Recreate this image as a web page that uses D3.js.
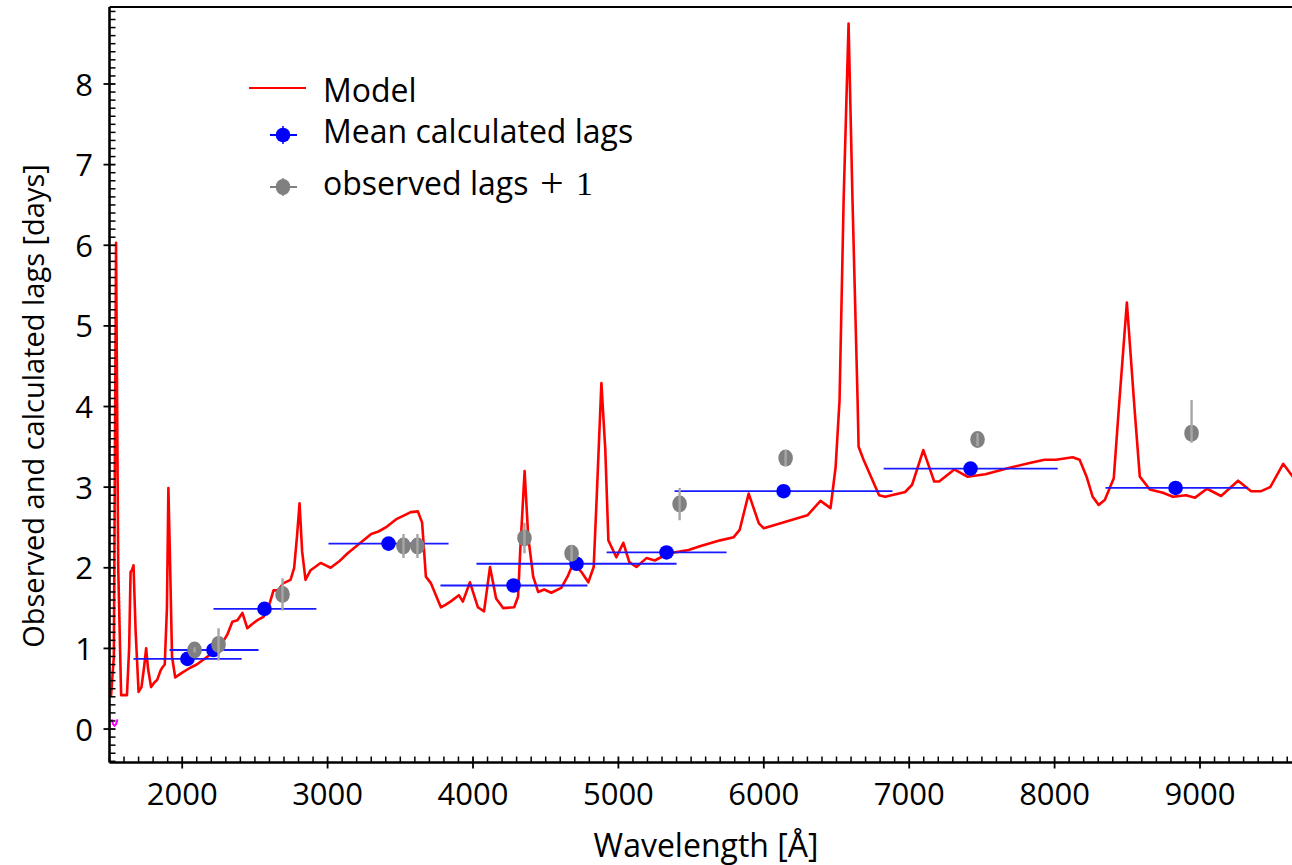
<!DOCTYPE html>
<html>
<head>
<meta charset="utf-8">
<script src="https://cdn.jsdelivr.net/npm/d3@7"></script>
<style>
  body { margin: 0; background: #fff; }
  svg text { font-family: "Open Sans", sans-serif; fill: #000; }
</style>
</head>
<body>
<svg id="chart" width="1292" height="865"></svg>
<script>

// MODEL CURVE (wavelength in A, lag in days)
var model_wave = [1510, 1530, 1545, 1560, 1580, 1620, 1635, 1645, 1655, 1665, 1680, 1700, 1720, 1740, 1752, 1765, 1786, 1810, 1828, 1850, 1862, 1880, 1895, 1905, 1915, 1930, 1952,
  2000, 2055, 2100, 2145, 2220, 2270, 2310, 2345, 2380, 2414, 2448, 2480, 2517, 2559, 2600, 2628, 2660, 2697, 2745, 2770, 2790, 2807, 2825, 2848, 2883, 2952,
  3021, 3080, 3138, 3220, 3300, 3350, 3400, 3470, 3572, 3621, 3650, 3676, 3710, 3779, 3810, 3845, 3903, 3930, 3979,
  4034, 4076, 4117, 4159, 4207, 4283, 4310, 4325, 4355, 4380, 4414, 4448, 4490, 4538, 4607, 4650, 4690, 4745, 4793, 4830, 4850, 4883, 4910, 4931, 4986,
  5034, 5075, 5124, 5193, 5250, 5345, 5420, 5483, 5566, 5700, 5793, 5834, 5896, 5966,
  6000, 6150, 6300, 6390, 6459, 6494, 6521, 6549, 6583, 6610, 6645, 6652, 6686, 6793, 6835, 6972,
  7020, 7097, 7172, 7206, 7310, 7400, 7524, 7690, 7828, 7931,
  8010, 8124, 8172, 8220, 8262, 8303, 8345, 8407, 8441, 8497, 8552, 8586, 8655, 8745, 8814, 8903, 8966,
  9048, 9145, 9262, 9352, 9420, 9483, 9572, 9655, 9700];
var model_lag = [0.40, 0.90, 6.03, 2.00, 0.42, 0.42, 1.00, 1.95, 1.97, 2.03, 1.20, 0.46, 0.52, 0.80, 1.00, 0.75, 0.52, 0.58, 0.61, 0.72, 0.76, 0.80, 1.50, 2.99, 2.20, 0.90, 0.64,
  0.70, 0.76, 0.80, 0.86, 0.96, 1.05, 1.17, 1.33, 1.35, 1.44, 1.25, 1.30, 1.35, 1.39, 1.55, 1.72, 1.72, 1.81, 1.85, 2.00, 2.40, 2.80, 2.20, 1.85, 1.97, 2.06,
  2.00, 2.08, 2.18, 2.30, 2.42, 2.45, 2.50, 2.60, 2.69, 2.70, 2.56, 1.89, 1.81, 1.51, 1.54, 1.58, 1.66, 1.58, 1.82,
  1.51, 1.46, 2.01, 1.62, 1.50, 1.51, 1.64, 2.22, 3.20, 2.38, 1.89, 1.70, 1.73, 1.69, 1.75, 1.89, 2.06, 1.95, 1.82, 2.01, 2.84, 4.29, 3.46, 2.34, 2.13,
  2.31, 2.07, 2.01, 2.12, 2.09, 2.18, 2.20, 2.22, 2.27, 2.34, 2.38, 2.47, 2.92, 2.55,
  2.49, 2.57, 2.65, 2.83, 2.74, 3.25, 4.08, 6.56, 8.75, 6.56, 4.08, 3.50, 3.34, 2.90, 2.88, 2.94,
  3.03, 3.46, 3.07, 3.07, 3.22, 3.13, 3.16, 3.24, 3.30, 3.34,
  3.34, 3.37, 3.34, 3.13, 2.88, 2.78, 2.84, 3.11, 3.96, 5.29, 3.92, 3.13, 2.97, 2.93, 2.88, 2.90, 2.87,
  2.98, 2.89, 3.08, 2.95, 2.95, 3.00, 3.29, 3.09, 3.00];

// MEAN CALCULATED LAGS (with wavelength band as horizontal bar)
var calc_wave = [2036, 2215, 2566, 3419, 4279, 4712, 5331, 6136, 7422, 8832];
var calc_lag = [0.87, 0.98, 1.49, 2.30, 1.78, 2.05, 2.19, 2.95, 3.23, 2.99];
var calc_wave_min = [1665, 1913, 2215, 3006, 3776, 4024, 4919, 5386, 6824, 8350];
var calc_wave_max = [2409, 2525, 2923, 3832, 4787, 5400, 5744, 6885, 8021, 9327];

// OBSERVED LAGS + 1 (with vertical error bars)
var obs_wave = [2085, 2250, 2690, 3522, 3618, 4354, 4678, 5421, 6150, 7470, 8942];
var obs_lag = [0.98, 1.05, 1.67, 2.27, 2.27, 2.37, 2.18, 2.79, 3.36, 3.59, 3.67];
var obs_err_lo = [0.03, 0.20, 0.20, 0.15, 0.15, 0.19, 0.10, 0.20, 0.10, 0.08, 0.12];
var obs_err_hi = [0.03, 0.20, 0.20, 0.15, 0.15, 0.19, 0.10, 0.20, 0.10, 0.08, 0.41];

// small magenta trace near the left edge
var uv_wave = [1515, 1525, 1535, 1545, 1555];
var uv_lag = [0.12, 0.06, 0.04, 0.06, 0.12];

// AXIS TICKS
var x_ticks = [2000, 3000, 4000, 5000, 6000, 7000, 8000, 9000];
var y_ticks = [0, 1, 2, 3, 4, 5, 6, 7, 8];

var legend_labels = ["Model", "Mean calculated lags", "observed lags"];

// SVG DIMENSIONS
var svg = d3.select("#chart");
var left = 109.5, right = 1292, top_y = 7, bottom_y = 762.5;

var xScale = d3.scaleLinear().domain([1500, 9700]).range([left, left + 8200 * 0.1454]);
var yScale = d3.scaleLinear().domain([-0.415, 8.955]).range([bottom_y, top_y]);

svg.append("clipPath").attr("id", "plot_clip")
  .append("rect").attr("x", left).attr("y", top_y)
  .attr("width", right - left).attr("height", bottom_y - top_y);

var plot = svg.append("g").attr("clip-path", "url(#plot_clip)");

// MODEL LINE
var model_data = model_wave.map((w, i) => [w, model_lag[i]]);
var line = d3.line().x(d => xScale(d[0])).y(d => yScale(d[1]));

plot.append("path")
  .datum(uv_wave.map((w, i) => [w, uv_lag[i]]))
  .attr("d", line)
  .attr("fill", "none").attr("stroke", "#ff00ff").attr("stroke-width", 2);

plot.append("path")
  .datum(model_data)
  .attr("d", line)
  .attr("fill", "none")
  .attr("stroke", "#ff0000")
  .attr("stroke-width", 2.6)
  .attr("stroke-linejoin", "round");

// CALCULATED LAGS
var calc_data = calc_wave.map((w, i) => ({w: w, v: calc_lag[i], lo: calc_wave_min[i], hi: calc_wave_max[i]}));

plot.selectAll("line.calc_bar")
  .data(calc_data)
  .enter().append("line")
  .attr("class", "calc_bar")
  .attr("x1", d => xScale(d.lo)).attr("x2", d => xScale(d.hi))
  .attr("y1", d => yScale(d.v)).attr("y2", d => yScale(d.v))
  .attr("stroke", "#1a1aff").attr("stroke-width", 1.8);

plot.selectAll("circle.calc_pt")
  .data(calc_data)
  .enter().append("circle")
  .attr("class", "calc_pt")
  .attr("cx", d => xScale(d.w)).attr("cy", d => yScale(d.v))
  .attr("r", 7.3)
  .attr("fill", "#0000ff");

// OBSERVED LAGS
var obs_data = obs_wave.map((w, i) => ({w: w, v: obs_lag[i], lo: obs_lag[i] - obs_err_lo[i], hi: obs_lag[i] + obs_err_hi[i]}));

plot.selectAll("ellipse.obs_pt")
  .data(obs_data)
  .enter().append("ellipse")
  .attr("class", "obs_pt")
  .attr("cx", d => xScale(d.w)).attr("cy", d => yScale(d.v))
  .attr("rx", 7.3).attr("ry", 8.5)
  .attr("fill", "#808080");

plot.selectAll("line.obs_bar")
  .data(obs_data)
  .enter().append("line")
  .attr("class", "obs_bar")
  .attr("x1", d => xScale(d.w)).attr("x2", d => xScale(d.w))
  .attr("y1", d => yScale(d.lo)).attr("y2", d => yScale(d.hi))
  .attr("stroke", "#a6a6a6").attr("stroke-width", 2.4);

// AXES
var x_minor = d3.range(1500, 9700, 100).filter(t => t % 1000 != 0);
var y_minor = d3.range(-4, 90, 1).map(t => t / 10).filter(t => Math.round(t * 10) % 10 != 0);

var axes = svg.append("g");

axes.selectAll("line.xminor").data(x_minor).enter().append("line")
  .attr("x1", d => xScale(d)).attr("x2", d => xScale(d))
  .attr("y1", bottom_y - 6).attr("y2", bottom_y)
  .attr("stroke", "#000").attr("stroke-width", 1.5);
axes.selectAll("line.xmajor").data(x_ticks).enter().append("line")
  .attr("x1", d => xScale(d)).attr("x2", d => xScale(d))
  .attr("y1", bottom_y - 6).attr("y2", bottom_y + 6)
  .attr("stroke", "#000").attr("stroke-width", 1.8);

axes.selectAll("line.yminor").data(y_minor).enter().append("line")
  .attr("y1", d => yScale(d)).attr("y2", d => yScale(d))
  .attr("x1", left).attr("x2", left + 6)
  .attr("stroke", "#000").attr("stroke-width", 1.5);
axes.selectAll("line.ymajor").data(y_ticks).enter().append("line")
  .attr("y1", d => yScale(d)).attr("y2", d => yScale(d))
  .attr("x1", left - 6).attr("x2", left + 6)
  .attr("stroke", "#000").attr("stroke-width", 1.8);

// frame lines: left, bottom, top
axes.append("line").attr("x1", left).attr("x2", left).attr("y1", top_y).attr("y2", bottom_y)
  .attr("stroke", "#000").attr("stroke-width", 2.6);
axes.append("line").attr("x1", left).attr("x2", right).attr("y1", bottom_y).attr("y2", bottom_y)
  .attr("stroke", "#000").attr("stroke-width", 2.6);
axes.append("line").attr("x1", left).attr("x2", right).attr("y1", top_y).attr("y2", top_y)
  .attr("stroke", "#000").attr("stroke-width", 2.2);

axes.selectAll("text.xlab").data(x_ticks).enter().append("text")
  .attr("x", d => xScale(d)).attr("y", 805)
  .attr("text-anchor", "middle").style("font-size", "31px")
  .text(d => d);

axes.selectAll("text.ylab").data(y_ticks).enter().append("text")
  .attr("x", 93).attr("y", d => yScale(d) + 11.5)
  .attr("text-anchor", "end").style("font-size", "31px")
  .text(d => d);

svg.append("text")
  .attr("x", 706).attr("y", 857)
  .attr("text-anchor", "middle").style("font-size", "32px")
  .text("Wavelength [Å]");

svg.append("text")
  .attr("transform", "translate(44,406) rotate(-90)")
  .attr("text-anchor", "middle").style("font-size", "29px")
  .text("Observed and calculated lags [days]");

// LEGEND
var legend = svg.append("g");
legend.append("line").attr("x1", 249).attr("x2", 306).attr("y1", 88).attr("y2", 88)
  .attr("stroke", "#ff0000").attr("stroke-width", 2);

legend.append("line").attr("x1", 270).attr("x2", 297).attr("y1", 135).attr("y2", 135)
  .attr("stroke", "#0000ff").attr("stroke-width", 2);
legend.append("line").attr("x1", 283).attr("x2", 283).attr("y1", 126).attr("y2", 144)
  .attr("stroke", "#0000ff").attr("stroke-width", 1.5);
legend.append("circle").attr("cx", 283).attr("cy", 135).attr("r", 7.3).attr("fill", "#0000ff");

legend.append("line").attr("x1", 270).attr("x2", 297).attr("y1", 187).attr("y2", 187)
  .attr("stroke", "#808080").attr("stroke-width", 2);
legend.append("line").attr("x1", 283).attr("x2", 283).attr("y1", 178).attr("y2", 196)
  .attr("stroke", "#808080").attr("stroke-width", 1.5);
legend.append("ellipse").attr("cx", 283).attr("cy", 187).attr("rx", 7.3).attr("ry", 8).attr("fill", "#808080");

legend.selectAll("text.leg").data(legend_labels).enter().append("text")
  .attr("x", 323).attr("y", (d, i) => [102, 143, 195][i])
  .style("font-size", "32px")
  .text(d => d);

var plus_one = legend.append("text").attr("y", 195).style("font-family", "'Liberation Serif', serif");
plus_one.append("tspan").attr("x", 540).attr("y", 197).style("font-size", "42px").text("+");
plus_one.append("tspan").attr("x", 576).attr("y", 195).style("font-size", "34px").text("1");

</script>
</body>
</html>
